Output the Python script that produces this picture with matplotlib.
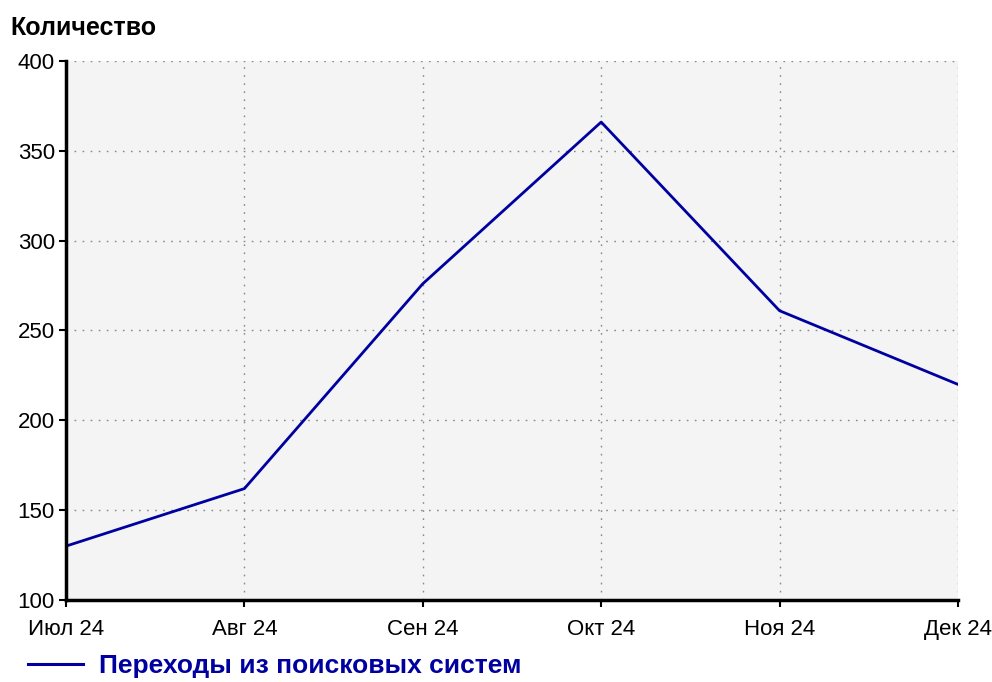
import matplotlib
matplotlib.use("Agg")
import matplotlib.pyplot as plt
from matplotlib.lines import Line2D

plt.rcParams['font.family'] = ['Liberation Sans', 'DejaVu Sans']

months = ["Июл 24", "Авг 24", "Сен 24", "Окт 24", "Ноя 24", "Дек 24"]
visits = [130, 162, 276, 366, 261, 220]
y_ticks = [100, 150, 200, 250, 300, 350, 400]
series_name = "Переходы из поисковых систем"
line_color = "#0000a0"

fig = plt.figure(figsize=(9.92, 6.82), dpi=100)
ax = fig.add_axes([0.0665, 0.1202, 0.8992, 0.7904])
ax.set_facecolor("#f4f4f4")

x = list(range(len(months)))
ax.plot(x, visits, color=line_color, linewidth=2)

ax.set_xlim(0, len(months) - 1)
ax.set_ylim(100, 400)
ax.set_xticks(x)
ax.set_xticklabels(months, fontsize=16)
ax.set_yticks(y_ticks)
ax.tick_params(axis="y", labelsize=16, length=5, width=1.5, direction="out", pad=3)
ax.tick_params(axis="x", length=5, width=1.5, direction="out", pad=9)

ax.grid(True, linestyle=(0, (1.2, 4.6)), color="#888888", linewidth=1)
ax.set_axisbelow(True)
for side in ["top", "right"]:
    ax.spines[side].set_visible(False)
for side in ["left", "bottom"]:
    ax.spines[side].set_linewidth(2.5)
    ax.spines[side].set_color("black")

fig.text(0.010, 1 - 35 / 682, "Количество", fontsize=18, fontweight="bold",
         ha="left", va="baseline")

handle = Line2D([], [], color=line_color, linewidth=2.2)
leg = fig.legend([handle], [series_name], loc="center left",
                 bbox_to_anchor=(28 / 992, 1 - 666 / 682),
                 frameon=False, prop={"size": 19, "weight": "bold"},
                 borderpad=0, borderaxespad=0,
                 handlelength=2.1, handletextpad=0.6)
for t in leg.get_texts():
    t.set_color(line_color)

fig.savefig("out.png", dpi=100)
